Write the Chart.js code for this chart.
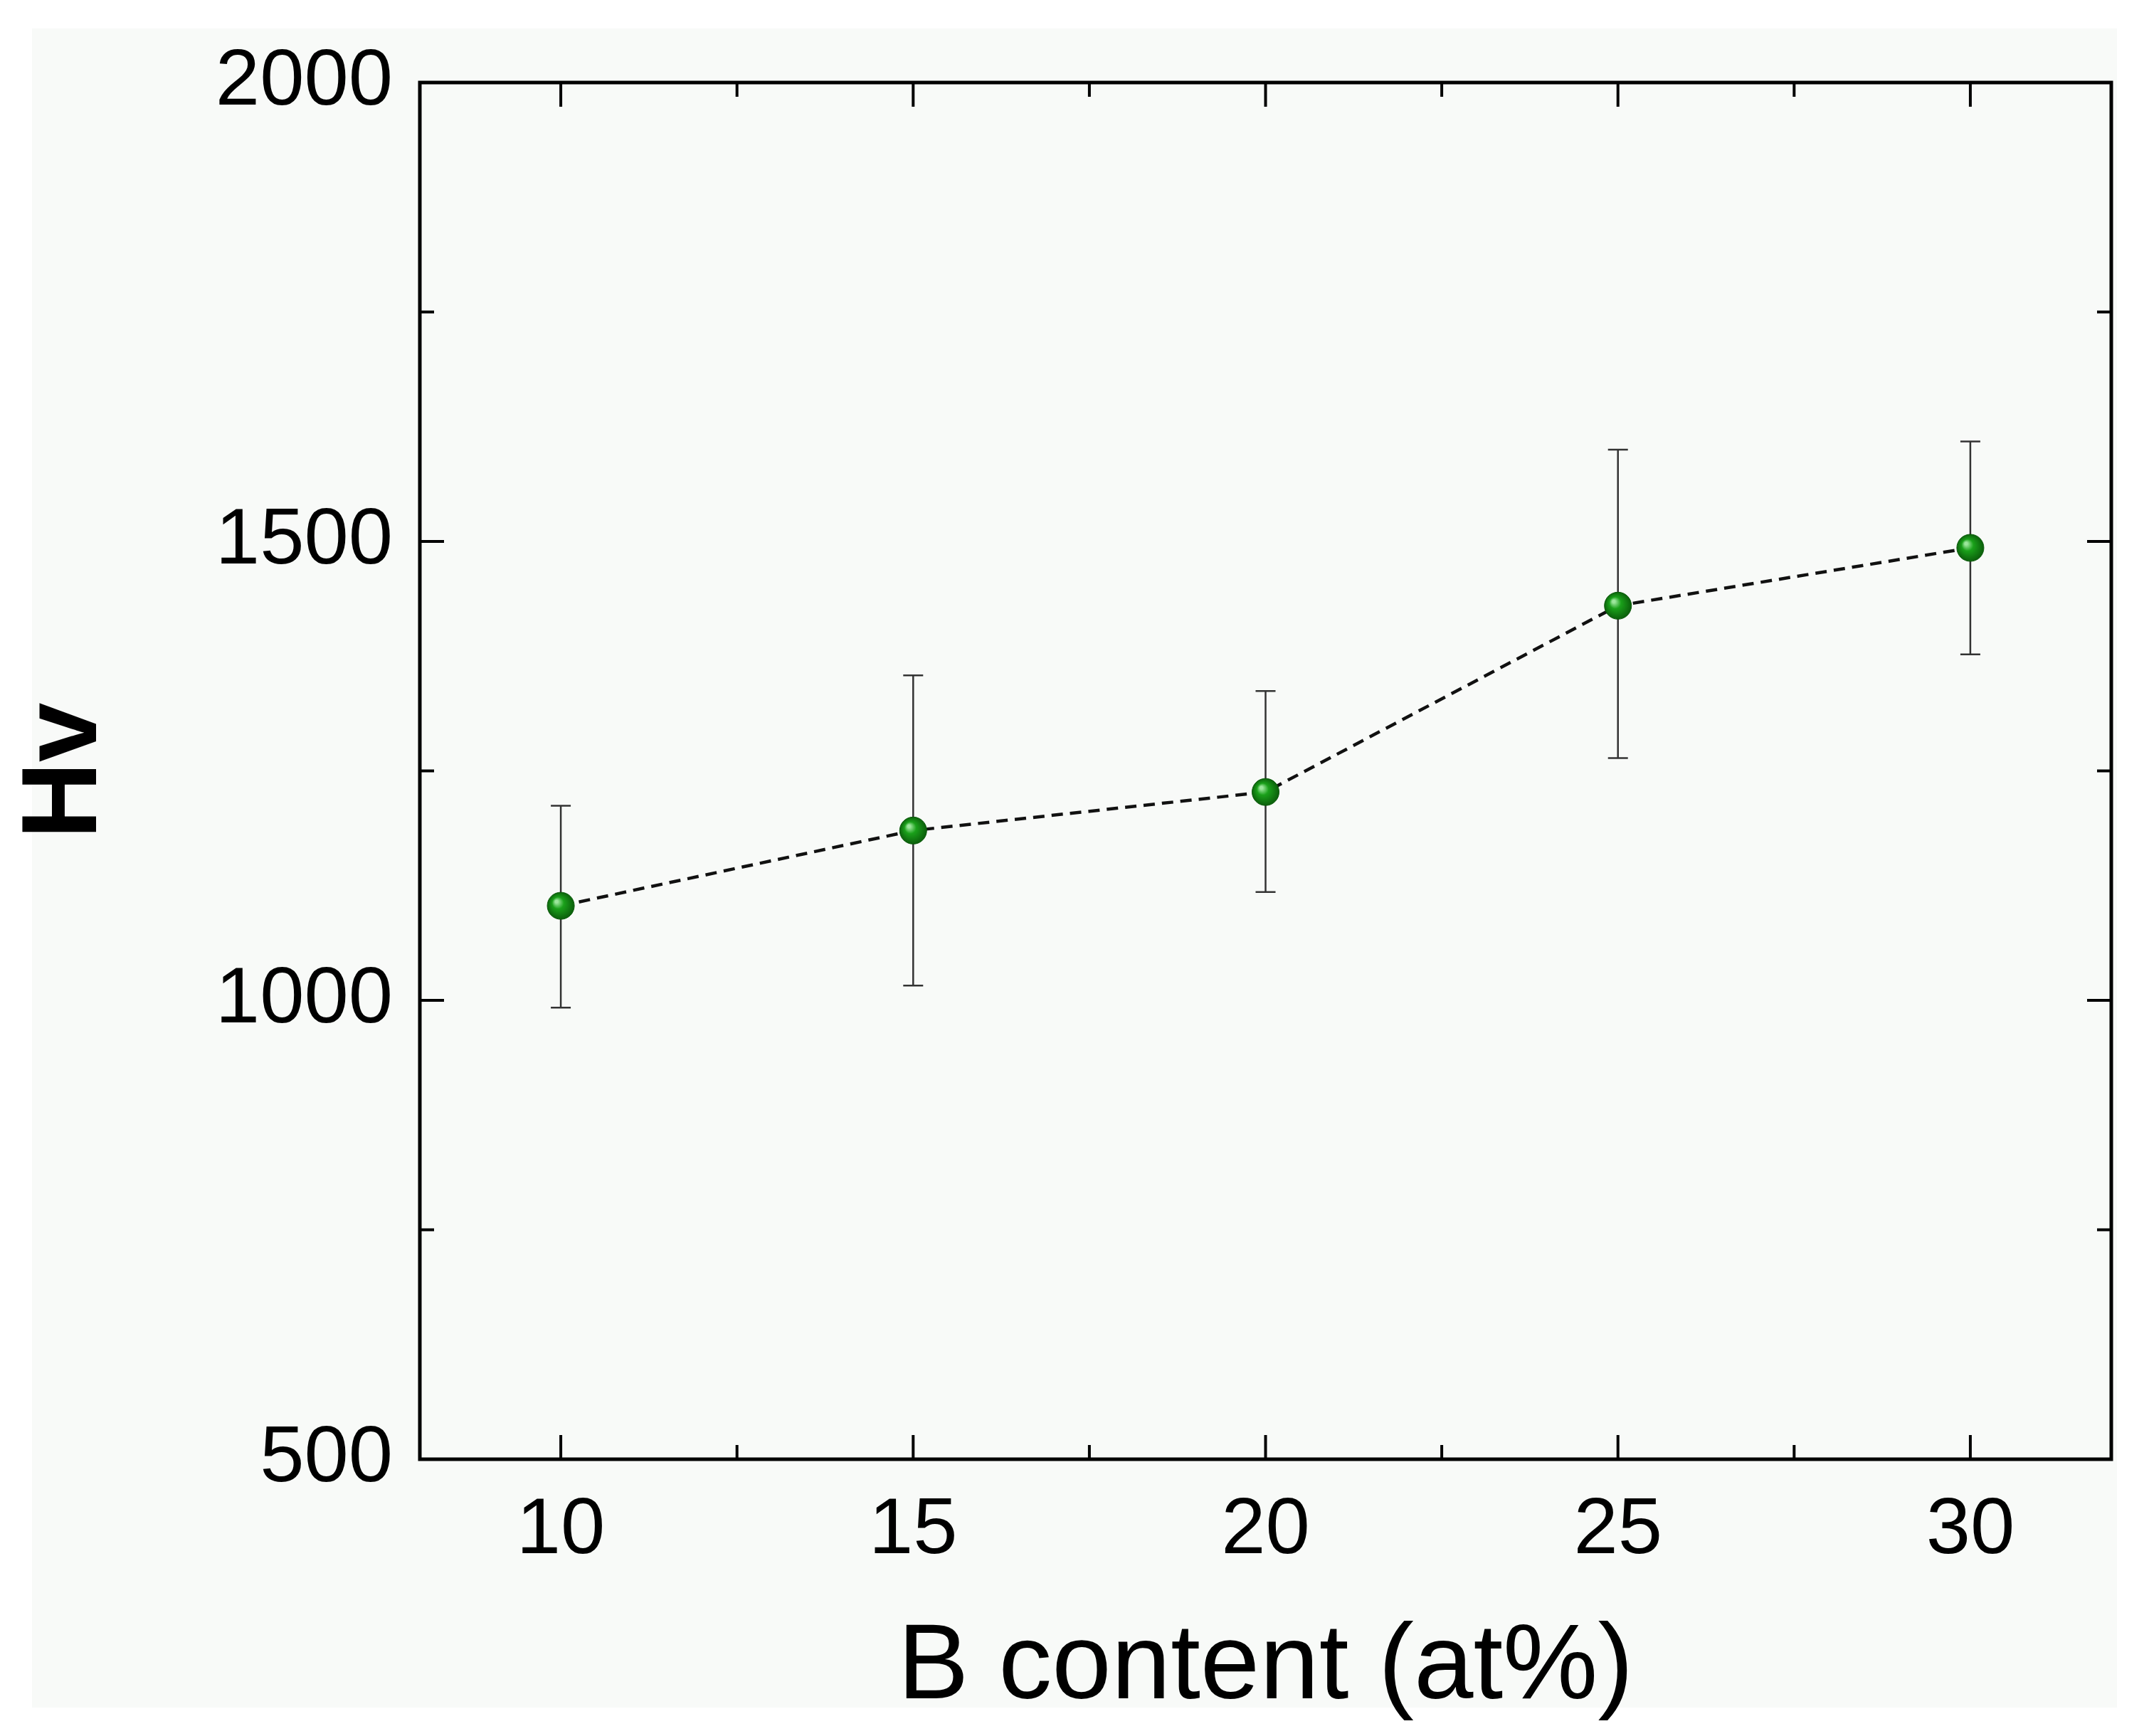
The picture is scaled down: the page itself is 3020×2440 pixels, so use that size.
<!DOCTYPE html>
<html>
<head>
<meta charset="utf-8">
<script src="https://cdn.jsdelivr.net/npm/chart.js@4.4.0/dist/chart.umd.min.js"></script>
<style>
  html, body { margin: 0; padding: 0; background: #ffffff; }
  #wrap { position: relative; width: 3020px; height: 2440px; }
  #bg { position: absolute; left: 45px; top: 40px; width: 2930px; height: 2360px; background: #f8faf8; }
  canvas { position: absolute; left: 0; top: 0; }
</style>
</head>
<body>
<div id="wrap">
  <div id="bg"></div>
  <canvas id="chart" width="3020" height="2440"></canvas>
</div>
<script>
// B content (at%)
const boronContent = [10, 15, 20, 25, 30];
// Vickers hardness, mean and error bar ends
const hardness = [1103, 1185, 1227, 1430, 1493];
const errHigh = [1212, 1354, 1337, 1600, 1609];
const errLow = [992, 1016, 1118, 1264, 1377];
const xTicks = [10, 15, 20, 25, 30];
const yTicks = [500, 1000, 1500, 2000];

const FONT = "'Liberation Sans Narrow', 'Arial Narrow', 'Liberation Sans', Arial, sans-serif";

// error bars + inward ticks on all four sides + frame
const decorations = {
    id: 'decorations',
    beforeDatasetsDraw(chart) {
        const ctx = chart.ctx;
        const xs = chart.scales.x, ys = chart.scales.y;
        ctx.save();
        ctx.strokeStyle = '#333';
        ctx.lineWidth = 2.5;
        const cap = 14;
        boronContent.forEach((b, i) => {
            const px = xs.getPixelForValue(b);
            const top = ys.getPixelForValue(errHigh[i]);
            const bot = ys.getPixelForValue(errLow[i]);
            ctx.beginPath();
            ctx.moveTo(px, top); ctx.lineTo(px, bot);
            ctx.moveTo(px - cap, top); ctx.lineTo(px + cap, top);
            ctx.moveTo(px - cap, bot); ctx.lineTo(px + cap, bot);
            ctx.stroke();
        });
        ctx.restore();
    },
    afterDraw(chart) {
        const ctx = chart.ctx;
        const a = chart.chartArea;
        const xs = chart.scales.x, ys = chart.scales.y;
        ctx.save();
        ctx.strokeStyle = '#000';
        ctx.lineWidth = 5;
        ctx.strokeRect(a.left, a.top, a.right - a.left, a.bottom - a.top);
        ctx.lineWidth = 4;
        ctx.beginPath();
        for (let v = 10; v <= 30; v += 2.5) {
            const px = xs.getPixelForValue(v);
            const len = v % 5 === 0 ? 34 : 20;
            ctx.moveTo(px, a.bottom); ctx.lineTo(px, a.bottom - len);
            ctx.moveTo(px, a.top); ctx.lineTo(px, a.top + len);
        }
        for (let v = 500; v <= 2000; v += 250) {
            const py = ys.getPixelForValue(v);
            const len = v % 500 === 0 ? 34 : 20;
            ctx.moveTo(a.left, py); ctx.lineTo(a.left + len, py);
            ctx.moveTo(a.right, py); ctx.lineTo(a.right - len, py);
        }
        ctx.stroke();
        ctx.restore();
    }
};

function ballStyle(context) {
    const chart = context.chart;
    const el = context.element;
    if (!el || el.x === undefined) return '#1a8a1a';
    const g = chart.ctx.createRadialGradient(el.x - 6, el.y - 6, 2, el.x, el.y, 20);
    g.addColorStop(0, '#9be69b');
    g.addColorStop(0.35, '#1aa01a');
    g.addColorStop(1, '#0a5a0a');
    return g;
}

new Chart(document.getElementById('chart'), {
    type: 'scatter',
    data: {
        datasets: [{
            data: boronContent.map((b, i) => ({ x: b, y: hardness[i] })),
            showLine: true,
            borderColor: '#111',
            borderWidth: 4.5,
            borderDash: [16, 10],
            pointRadius: 19,
            pointBackgroundColor: ballStyle,
            pointBorderColor: '#0a5a0a',
            pointBorderWidth: 1
        }]
    },
    options: {
        responsive: false,
        animation: false,
        devicePixelRatio: 1,
        layout: { padding: { top: 116, right: 53, left: 0, bottom: 0 } },
        plugins: { legend: { display: false }, tooltip: { enabled: false } },
        scales: {
            x: {
                type: 'linear', min: 8, max: 32,
                afterBuildTicks: s => { s.ticks = xTicks.map(v => ({ value: v })); },
                afterFit: s => { s.height = 389; },
                grid: { display: false, drawTicks: false },
                border: { display: false },
                ticks: { color: '#000', padding: 34, callback: v => String(v),
                         font: { family: FONT, size: 112 } },
                title: { display: true, text: 'B content (at%)', color: '#000', padding: { top: 0 },
                         font: { family: FONT, size: 150 } }
            },
            y: {
                type: 'linear', min: 500, max: 2000,
                afterBuildTicks: s => { s.ticks = yTicks.map(v => ({ value: v })); },
                afterFit: s => { s.width = 590; },
                grid: { display: false, drawTicks: false },
                border: { display: false },
                ticks: { color: '#000', padding: 38, callback: v => String(v),
                         font: { family: FONT, size: 112 } },
                title: { display: true, text: 'Hv', color: '#000', padding: { bottom: 40 },
                         font: { family: FONT, size: 150, weight: 'bold' } }
            }
        }
    },
    plugins: [decorations]
});
</script>
</body>
</html>
